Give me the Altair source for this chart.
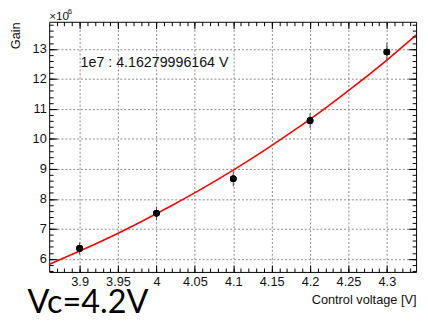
import altair as alt
import pandas as pd

# measured points
voltage = [3.9, 4.0, 4.1, 4.2, 4.3]
gain = [6.35, 7.52, 8.67, 10.61, 12.90]          # x10^6
gain_err = [0.20, 0.22, 0.25, 0.245, 0.30]        # x10^6

# fit curve
fit_v = [3.86, 3.90, 3.94, 3.98, 4.02, 4.06, 4.10, 4.14, 4.18, 4.22, 4.26, 4.30, 4.338]
fit_g = [5.81, 6.26, 6.73, 7.24, 7.78, 8.35, 8.96, 9.61, 10.30, 11.03, 11.81, 12.63, 13.46]

x_major = [3.9, 3.95, 4.0, 4.05, 4.1, 4.15, 4.2, 4.25, 4.3]
x_minor = [round(3.87 + 0.01 * i, 2) for i in range(47)]
y_major = [6, 7, 8, 9, 10, 11, 12, 13]
y_minor = [round(5.6 + 0.2 * i, 1) for i in range(42)]

FIT_LABEL = "1e7 : 4.16279996164 V"
NOTE = "Vc=4.2V"

W, H = 374, 255
XD = [3.8604, 4.338]
YD = [5.565, 13.906]
FONT = "Liberation Sans"

xs = alt.Scale(domain=XD, nice=False, zero=False)
ys = alt.Scale(domain=YD, nice=False, zero=False)

pts = pd.DataFrame({"v": voltage, "g": gain,
                    "lo": [g - e for g, e in zip(gain, gain_err)],
                    "hi": [g + e for g, e in zip(gain, gain_err)]})
fit = pd.DataFrame({"v": fit_v, "g": fit_g})


def tick_axis(orient, offset, values, size):
    return alt.Axis(orient=orient, offset=offset, values=values, labels=False,
                    domain=False, grid=False, ticks=True, tickSize=size,
                    tickColor="black", tickWidth=1, title=None, zindex=1)


main_x = alt.Axis(orient="bottom", values=x_major, format="~g", grid=True,
                  gridDash=[2, 2], gridColor="#888", gridWidth=1, ticks=False,
                  domain=False, labelFontSize=13, labelFont=FONT, labelColor="#111",
                  labelPadding=4, title="Control voltage [V]", titleAnchor="end",
                  titleFont=FONT, titleFontSize=13, titleFontWeight="normal",
                  titleColor="#111", titlePadding=5, zindex=0)
main_y = alt.Axis(orient="left", values=y_major, format="d", grid=True,
                  gridDash=[2, 2], gridColor="#888", gridWidth=1, ticks=False,
                  domain=False, labelFontSize=13, labelFont=FONT, labelColor="#111",
                  labelPadding=3, title="Gain", titleAnchor="end",
                  titleFont=FONT, titleFontSize=13, titleFontWeight="normal",
                  titleColor="#111", titlePadding=10, zindex=0)

line = alt.Chart(fit).mark_line(color="#ff0000", strokeWidth=1.6,
                                interpolate="monotone").encode(
    x=alt.X("v:Q", scale=xs, axis=main_x),
    y=alt.Y("g:Q", scale=ys, axis=main_y),
)

err = alt.Chart(pts).mark_rule(color="#444", strokeWidth=1).encode(
    x=alt.X("v:Q", scale=xs, axis=tick_axis("top", -H, x_major, 7)),
    y=alt.Y("lo:Q", scale=ys, axis=tick_axis("right", -W, y_major, 8)),
    y2="hi:Q",
)

dots = alt.Chart(pts).mark_circle(color="black", size=45, opacity=1).encode(
    x=alt.X("v:Q", scale=xs, axis=tick_axis("top", -H, x_minor, 4)),
    y=alt.Y("g:Q", scale=ys, axis=tick_axis("right", -W, y_minor, 4)),
)

dots2 = alt.Chart(pts).mark_circle(color="black", size=45, opacity=1).encode(
    x=alt.X("v:Q", scale=xs, axis=tick_axis("bottom", -H, x_major, 7)),
    y=alt.Y("g:Q", scale=ys, axis=tick_axis("left", -W, y_major, 8)),
)

dots3 = alt.Chart(pts).mark_circle(color="black", size=45, opacity=1).encode(
    x=alt.X("v:Q", scale=xs, axis=tick_axis("bottom", -H, x_minor, 4)),
    y=alt.Y("g:Q", scale=ys, axis=tick_axis("left", -W, y_minor, 4)),
)

one = pd.DataFrame({"t": [FIT_LABEL]})
label = alt.Chart(one).mark_text(align="left", baseline="middle", fontSize=14.5,
                                 font=FONT, color="#111").encode(
    text="t:N", x=alt.value(32), y=alt.value(42))

x10 = alt.Chart(pd.DataFrame({"t": ["×10"]})).mark_text(
    align="left", baseline="alphabetic", fontSize=12, font=FONT, color="#111"
).encode(text="t:N", x=alt.value(0), y=alt.value(-2))
sup = alt.Chart(pd.DataFrame({"t": ["6"]})).mark_text(
    align="left", baseline="alphabetic", fontSize=8, font=FONT, color="#111"
).encode(text="t:N", x=alt.value(19), y=alt.value(-8))

note = alt.Chart(pd.DataFrame({"t": [NOTE]})).mark_text(
    align="left", baseline="alphabetic", fontSize=33, font="Lato", color="#000"
).encode(text="t:N", x=alt.value(-22), y=alt.value(297))

chart = alt.layer(line, err, dots, dots2, dots3, label, x10, sup, note).resolve_axis(
    x="independent", y="independent"
).properties(
    width=W, height=H,
    autosize=alt.AutoSizeParams(type="none"),
    padding={"left": 42, "top": 11, "right": 4, "bottom": 49},
    background="white",
).configure_view(stroke="black", strokeWidth=1)

chart.save("out.html", embed_options={"renderer": "svg", "actions": False})
